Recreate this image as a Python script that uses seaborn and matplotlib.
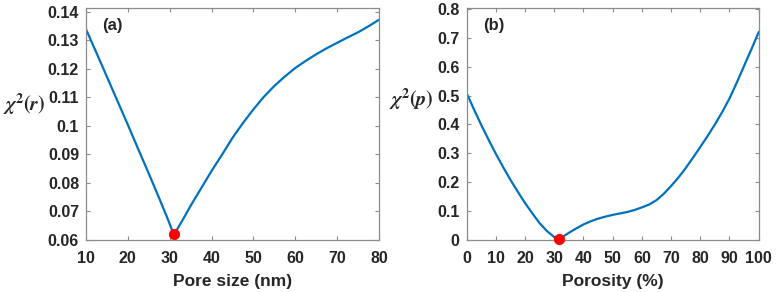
#!/usr/bin/env python3
"""
Chi-square misfit versus pore size (a) and porosity (b).
"""

import pandas as pd
import matplotlib.pyplot as plt
import seaborn as sns

# panel (a): chi^2(r) vs pore size (nm)
pore_size = [10, 12.5, 15, 17.5, 20, 22.5, 25, 27.5, 29.5, 31, 33, 35, 37.5, 40,
             42.5, 45, 47.5, 50, 52.5, 55, 57.5, 60, 62.5, 65, 67.5, 70, 72.5,
             75, 77.5, 80]
chi2_r = [0.1339, 0.1256, 0.1172, 0.1088, 0.1004, 0.0918, 0.0833, 0.0746,
          0.0675, 0.0618, 0.0668, 0.0720, 0.0781, 0.0842, 0.0899, 0.0958,
          0.1010, 0.1058, 0.1102, 0.1140, 0.1173, 0.1203, 0.1228, 0.1251,
          0.1272, 0.1291, 0.1310, 0.1328, 0.1349, 0.1372]
best_r = [31.0]
best_chi2_r = [0.0621]

# panel (b): chi^2(p) vs porosity (%)
porosity = [0, 2.5, 5, 7.5, 10, 12.5, 15, 17.5, 20, 22.5, 25, 27.5, 30, 31.6,
            33, 35, 37.5, 40, 42.5, 45, 47.5, 50, 52.5, 55, 57.5, 60, 62.5, 65,
            67.5, 70, 72.5, 75, 77.5, 80, 82.5, 85, 87.5, 90, 92.5, 95, 97.5, 100]
chi2_p = [0.508, 0.452, 0.398, 0.347, 0.298, 0.252, 0.208, 0.167, 0.128, 0.092,
          0.058, 0.031, 0.010, 0.003, 0.012, 0.025, 0.040, 0.054, 0.065, 0.074,
          0.081, 0.087, 0.092, 0.097, 0.104, 0.113, 0.123, 0.138, 0.160, 0.187,
          0.216, 0.249, 0.285, 0.322, 0.360, 0.400, 0.443, 0.490, 0.545, 0.603,
          0.660, 0.720]
best_p = [31.6]
best_chi2_p = [0.004]

a_xticks = [10, 20, 30, 40, 50, 60, 70, 80]
a_yticks = [0.06, 0.07, 0.08, 0.09, 0.10, 0.11, 0.12, 0.13, 0.14]
a_ylabels = ["0.06", "0.07", "0.08", "0.09", "0.1", "0.11", "0.12", "0.13", "0.14"]
b_xticks = [0, 10, 20, 30, 40, 50, 60, 70, 80, 90, 100]
b_yticks = [0, 0.1, 0.2, 0.3, 0.4, 0.5, 0.6, 0.7, 0.8]
b_ylabels = ["0", "0.1", "0.2", "0.3", "0.4", "0.5", "0.6", "0.7", "0.8"]

LINE = "#0072BD"
DOT = "#FF0000"
SPINE = "#8c8c8c"

sns.set_style("ticks")
plt.rcParams["font.family"] = ["Liberation Sans", "DejaVu Sans"]
plt.rcParams["font.weight"] = "bold"
plt.rcParams["mathtext.fontset"] = "stix"

df_a = pd.DataFrame({"x": pore_size, "y": chi2_r})
df_b = pd.DataFrame({"x": porosity, "y": chi2_p})

fig = plt.figure(figsize=(7.76, 2.92), dpi=100)
ax_a = fig.add_axes([0.1108, 0.178, 0.3776, 0.7945])
ax_b = fig.add_axes([0.6014, 0.178, 0.3763, 0.7945])

panels = [
    (ax_a, df_a, best_r, best_chi2_r, (10, 80), (0.06, 0.1413), a_xticks,
     a_yticks, a_ylabels, "Pore size (nm)", r"$\chi^2(r)$", "(a)", -0.21, 0.53),
    (ax_b, df_b, best_p, best_chi2_p, (0, 100), (0, 0.803), b_xticks,
     b_yticks, b_ylabels, "Porosity (%)", r"$\chi^2(p)$", "(b)", -0.19, 0.55),
]

for ax, df, bx, by, xlim, ylim, xt, yt, yl, xlab, ylab, tag, lx, ly in panels:
    sns.lineplot(data=df, x="x", y="y", ax=ax, color=LINE, linewidth=1.6)
    sns.scatterplot(x=bx, y=by, ax=ax, color=DOT, s=55, edgecolor=DOT,
                    zorder=5, clip_on=False)
    ax.set_xlim(*xlim)
    ax.set_ylim(*ylim)
    ax.set_xticks(xt)
    ax.set_xticklabels([str(v) for v in xt])
    ax.set_yticks(yt)
    ax.set_yticklabels(yl)
    ax.tick_params(direction="in", length=3, width=0.8, color=SPINE,
                   top=True, right=True, labelsize=11.5)
    ax.tick_params(axis="x", pad=8)
    ax.tick_params(axis="y", pad=5)
    for s in ax.spines.values():
        s.set_color(SPINE)
        s.set_linewidth(0.9)
    ax.set_xlabel(xlab, fontsize=12.5, fontweight="bold", labelpad=6)
    ax.set_ylabel(ylab, fontsize=14.5, rotation=0)
    ax.yaxis.set_label_coords(lx, ly)
    ax.text(0.055, 0.955, tag, transform=ax.transAxes, fontsize=12,
            fontweight="bold", va="top", ha="left")

fig.savefig("out.png", dpi=100)
plt.close(fig)
